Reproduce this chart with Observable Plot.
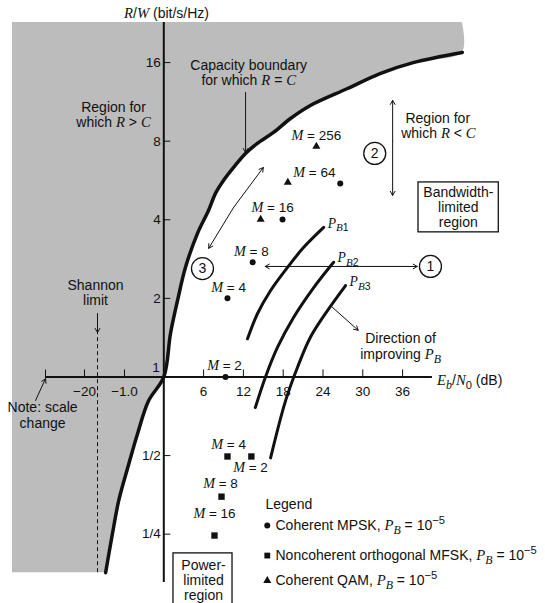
<!DOCTYPE html>
<html><head><meta charset="utf-8">
<script src="https://cdn.jsdelivr.net/npm/d3@7"></script>
<script src="https://cdn.jsdelivr.net/npm/@observablehq/plot@0.6"></script>
<style>body{margin:0;background:#fff;} svg{display:block}</style>
</head><body><div id="chart"></div>
<script>
// ---- Data (Eb/N0 in dB, R/W in bit/s/Hz) ----
const boundaryDb = [-1.42, -1.27, -1.13, -0.92, -0.67, -0.39, 0, 1.01, 2.07, 3.27, 5.08, 6.74, 7.79, 9.0, 10.5, 12.32, 14.1, 16.54, 19.1, 22.1, 27.7, 32.6, 37.6, 45.0];
const boundaryR  = [0.178, 0.25, 0.335, 0.448, 0.605, 0.809, 1, 1.467, 1.963, 2.63, 3.55, 4.34, 5.05, 5.66, 6.34, 7.18, 7.84, 8.64, 9.77, 10.96, 12.73, 14.53, 16.0, 17.5];

const pb1Db = [12.62, 14.13, 16.08, 18.65, 21.06, 24.1];
const pb1R  = [1.40, 1.75, 2.14, 2.63, 3.13, 3.74];
const pb2Db = [13.8, 15.33, 17.15, 19.56, 22.6, 25.6];
const pb2R  = [0.764, 1.0, 1.30, 1.69, 2.20, 2.75];
const pb3Db = [16.1, 18.35, 20.16, 22.1, 24.7, 27.4];
const pb3R  = [0.49, 0.81, 1.09, 1.42, 1.80, 2.24];

const mpskM  = [2, 4, 8, 16, 64];
const mpskDb = [9.3, 9.6, 13.4, 17.9, 26.6];
const mpskR  = [1, 2.0, 2.75, 4.01, 5.51];
const qamM   = [16, 64, 256];
const qamDb  = [14.6, 18.7, 23.0];
const qamR   = [4.01, 5.56, 7.64];
const mfskM  = [4, 2, 8, 16];
const mfskDb = [9.6, 13.2, 8.7, 7.64];
const mfskR  = [0.496, 0.496, 0.348, 0.247];

const yTickValues = [16, 8, 4, 2, 0.5, 0.25];
const yTickLabels = ["16", "8", "4", "2", "1/2", "1/4"];
const xTickValues = [-40, -20, -1, 6, 12, 18, 24, 30, 36];
const xTickLabels = ["", "\u221220", "\u22121.0", "6", "12", "18", "24", "30", "36"];

// ---- tables built from the arrays ----
const zip = (a, b, extra = {}) => a.map((v, i) => ({db: v, r: b[i], ...Object.fromEntries(Object.entries(extra).map(([k, arr]) => [k, arr[i]]))}));
const boundary = zip(boundaryDb, boundaryR);
const shaded = [...boundary, {db: 45.0, r: 22.8}];
const pbCurves = [
  ...zip(pb1Db, pb1R).map(d => ({...d, c: "1"})),
  ...zip(pb2Db, pb2R).map(d => ({...d, c: "2"})),
  ...zip(pb3Db, pb3R).map(d => ({...d, c: "3"}))
];
const pbLabels = [
  {db: pb1Db.at(-1), r: pb1R.at(-1), t: "*P*_{*B*1}"},
  {db: pb2Db.at(-1), r: pb2R.at(-1), t: "*P*_{*B*2}"},
  {db: pb3Db.at(-1), r: pb3R.at(-1), t: "*P*_{*B*3}"}
];
const mpsk = zip(mpskDb, mpskR, {M: mpskM});
const qam = zip(qamDb, qamR, {M: qamM});
const mfsk = zip(mfskDb, mfskR, {M: mfskM});

// annotation anchors (data coordinates)
const mLabels = [
  {t: "*M* = 2", db: 9.15, r: 1.107}, {t: "*M* = 4", db: 9.76, r: 2.20},
  {t: "*M* = 8", db: 13.2, r: 3.02}, {t: "*M* = 16", db: 16.4, r: 4.46},
  {t: "*M* = 64", db: 22.7, r: 6.07}, {t: "*M* = 256", db: 23.0, r: 8.41},
  {t: "*M* = 4", db: 9.76, r: 0.551}, {t: "*M* = 2", db: 13.07, r: 0.450},
  {t: "*M* = 8", db: 8.55, r: 0.391}, {t: "*M* = 16", db: 7.64, r: 0.300}
];
const notes = [
  {t: "*R*/*W* (bit/s/Hz)", db: 0.41, r: 24.7},
  {t: "Capacity boundary", db: 12.8, r: 15.6},
  {t: "for which *R* = *C*", db: 12.8, r: 13.66},
  {t: "Region for", db: -1.244, r: 10.77},
  {t: "which *R* > *C*", db: -1.244, r: 9.44},
  {t: "Region for", db: 41.3, r: 9.77},
  {t: "which *R* < *C*", db: 41.4, r: 8.56},
  {t: "Bandwidth-", db: 44.4, r: 5.09},
  {t: "limited", db: 44.4, r: 4.46},
  {t: "region", db: 44.4, r: 3.91},
  {t: "Direction of", db: 35.7, r: 1.40},
  {t: "improving *P*_{*B*}", db: 35.7, r: 1.22},
  {t: "Shannon", db: -4.43, r: 2.24},
  {t: "limit", db: -4.43, r: 1.96},
  {t: "Note: scale", db: -41.5, r: 0.764},
  {t: "change", db: -41.5, r: 0.663},
  {t: "Power-", db: 5.99, r: 0.190},
  {t: "limited", db: 5.99, r: 0.166},
  {t: "region", db: 5.99, r: 0.146}
];
const circled = [
  {t: "1", db: 40.2, r: 2.65}, {t: "2", db: 31.8, r: 7.18}, {t: "3", db: 5.83, r: 2.60}
];
const legendText = [
  {t: "Legend", db: 15.33, r: 0.325},
  {t: "Coherent MPSK, *P*_{*B*} = 10^{\u22125}", db: 16.84, r: 0.270},
  {t: "Noncoherent orthogonal MFSK, *P*_{*B*} = 10^{\u22125}", db: 16.84, r: 0.207},
  {t: "Coherent QAM, *P*_{*B*} = 10^{\u22125}", db: 16.84, r: 0.166},
  {t: "*E*_{*b*}/*N*_{0} (dB)", db: 41.2, r: 0.970}
];
const legendSymbols = [
  {s: "circle", db: 15.6, r: 0.270, size: 3},
  {s: "square", db: 15.6, r: 0.207, size: 3.6},
  {s: "triangle", db: 15.6, r: 0.166, size: 3}
];
const arrows = [
  {x1: 12.33, y1: 12.29, x2: 12.33, y2: 7.24},
  {x1: -1.6, y1: 1.75, x2: -1.6, y2: 1.48},
  {x1: -45.1, y1: 0.813, x2: -40, y2: 0.985},
  {x1: 25.4, y1: 1.85, x2: 29.3, y2: 1.51},
  {x1: 34.5, y1: 8.0, x2: 34.5, y2: 11.46}, {x1: 34.5, y1: 8.0, x2: 34.5, y2: 4.96},
  {x1: 26, y1: 2.65, x2: 15.3, y2: 2.65}, {x1: 26, y1: 2.65, x2: 38.2, y2: 2.65},
  {x1: 10.5, y1: 4.45, x2: 6.77, y2: 3.11}, {x1: 10.5, y1: 4.45, x2: 15.0, y2: 6.34}
];
const boxes = [
  {x1: 38.4, x2: 50.5, y1: 5.56, y2: 3.58},
  {x1: 1.46, x2: 10.36, y1: 0.211, y2: 0.12}
];

const chart = Plot.plot({
  width: 545, height: 603, margin: 0,
  style: {fontFamily: "Liberation Sans, Arial, sans-serif", fontSize: "13px", background: "#fff", color: "#111"},
  x: {type: "linear", domain: [-57, -40, -20, -1.6, -1.0, 0, 45], range: [12, 45, 84, 97, 124, 163.3, 461.8], axis: null},
  y: {type: "log", base: 2, domain: [2 ** -2.615, 2 ** 4.51], range: [582, 22], axis: null},
  marks: [
    Plot.areaX(shaded, {y: "r", x1: -57, x2: "db", fill: "#bcbcbc", curve: "catmull-rom"}),
    Plot.ruleX([-1.6], {y1: 0.178, y2: 1.47, stroke: "#111", strokeWidth: 1, strokeDasharray: "4,3"}),
    Plot.ruleY([1], {x1: -40, x2: 40.5, stroke: "#111", strokeWidth: 2}),
    Plot.ruleX([0], {y1: 2 ** -2.615, y2: 2 ** 4.51, stroke: "#111", strokeWidth: 2}),
    Plot.ruleY(yTickValues, {x1: 0, x2: 1.06, stroke: "#111", strokeWidth: 1}),
    Plot.ruleX(xTickValues, {y1: 1, y2: 1.064, stroke: "#111", strokeWidth: 1}),
    Plot.text(yTickValues, {x: 0, y: d => d, text: (d, i) => yTickLabels[i], textAnchor: "end", dx: -3, fontSize: 13.5}),
    Plot.text([1], {x: 0, y: d => d, text: ["1"], textAnchor: "end", dx: -4, dy: -9, fontSize: 13.5}),
    Plot.text(xTickValues, {x: d => d, y: 1, text: (d, i) => xTickLabels[i], dy: 15, fontSize: 13.5}),
    Plot.line(boundary, {x: "db", y: "r", stroke: "#111", strokeWidth: 3.5, curve: "catmull-rom"}),
    Plot.line(pbCurves, {x: "db", y: "r", z: "c", stroke: "#111", strokeWidth: 3, curve: "catmull-rom"}),
    Plot.text(pbLabels, {x: "db", y: "r", text: "t", textAnchor: "start", dx: 4, dy: -4, fontSize: 13}),
    Plot.arrow(arrows, {x1: "x1", y1: "y1", x2: "x2", y2: "y2", stroke: "#111", strokeWidth: 1, headLength: 7}),
    Plot.rect(boxes, {x1: "x1", x2: "x2", y1: "y1", y2: "y2", fill: "#fff", stroke: "#111", strokeWidth: 1.3}),
    Plot.dot(mpsk, {x: "db", y: "r", r: 3, symbol: "circle", fill: "#111"}),
    Plot.dot(qam, {x: "db", y: "r", r: 3, symbol: "triangle", fill: "#111"}),
    Plot.dot(mfsk, {x: "db", y: "r", r: 3.6, symbol: "square", fill: "#111"}),
    Plot.text(mLabels, {x: "db", y: "r", text: "t", fontSize: 13.5}),
    Plot.dot(circled, {x: "db", y: "r", r: 11, fill: "#fff", stroke: "#111", strokeWidth: 1.3}),
    Plot.text(circled, {x: "db", y: "r", text: "t", fontSize: 14}),
    Plot.text(notes, {x: "db", y: "r", text: "t", fontSize: 14}),
    Plot.text(legendText, {x: "db", y: "r", text: "t", textAnchor: "start", fontSize: 14}),
    Plot.dot(legendSymbols, {x: "db", y: "r", r: "size", symbol: "s", fill: "#111"})
  ]
});
document.getElementById("chart").append(chart);

// render simple markup (*italic*, _{sub}, ^{sup}) inside Plot's text elements as tspans
function richify(svg) {
  d3.select(svg).selectAll("text").each(function () {
    const s = this.textContent;
    if (!/[*]|_\{|\^\{/.test(s)) return;
    const segs = [];
    let italic = false, mode = 0, buf = "";
    const push = () => { if (buf) segs.push({t: buf, italic, mode}); buf = ""; };
    for (let i = 0; i < s.length; i++) {
      const c = s[i];
      if (c === "*") { push(); italic = !italic; }
      else if ((c === "_" || c === "^") && s[i + 1] === "{") { push(); mode = c === "_" ? 1 : -1; i++; }
      else if (c === "}" && mode !== 0) { push(); mode = 0; }
      else buf += c;
    }
    push();
    const fs = parseFloat(getComputedStyle(this).fontSize) || 13;
    const el = d3.select(this);
    el.text(null);
    let shift = 0;
    for (const g of segs) {
      const target = g.mode === 1 ? fs * 0.3 : g.mode === -1 ? -fs * 0.4 : 0;
      const ts = el.append("tspan").text(g.t);
      if (target !== shift) { ts.attr("dy", target - shift); shift = target; }
      if (g.italic) ts.attr("font-family", "Liberation Serif, Times New Roman, serif").attr("font-style", "italic").attr("font-size", g.mode ? fs * 0.85 : fs * 1.05);
      else if (g.mode) ts.attr("font-size", fs * 0.8);
    }
  });
}
richify(chart);
</script>
</body></html>
